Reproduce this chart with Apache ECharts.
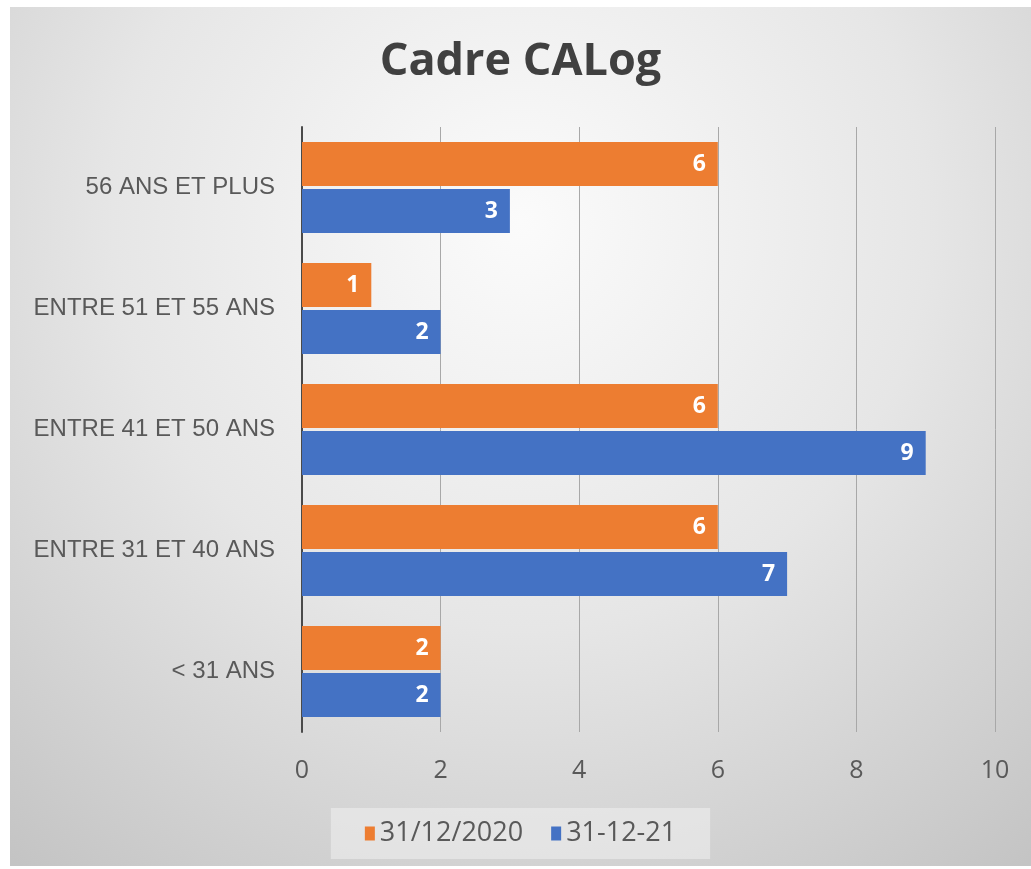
<!DOCTYPE html>
<html>
<head>
<meta charset="utf-8">
<script src="https://cdn.jsdelivr.net/npm/echarts@6/dist/echarts.min.js"></script>
<style>
html,body{margin:0;padding:0;background:#ffffff;}
#chart{position:absolute;left:10px;top:7px;width:1021px;height:859px;}
</style>
</head>
<body>
<div id="chart"></div>
<script>
const categories = ['< 31 ANS', 'ENTRE 31 ET 40 ANS', 'ENTRE 41 ET 50 ANS', 'ENTRE 51 ET 55 ANS', '56 ANS ET PLUS'];
const series2020 = [2, 6, 6, 1, 6];
const series2021 = [2, 7, 9, 2, 3];
const seriesNames = ['31/12/2020', '31-12-21'];
const xTicks = { min: 0, max: 10, interval: 2 };

const chart = echarts.init(document.getElementById('chart'));
const valueLabel = {
  show: true,
  position: 'insideRight',
  distance: 12,
  color: '#ffffff',
  fontFamily: 'Open Sans',
  fontWeight: 'bold',
  fontSize: 23
};
chart.setOption({
  backgroundColor: {
    type: 'radial', x: 0.5, y: 0.25, r: 0.95,
    colorStops: [
      { offset: 0, color: '#fbfbfb' },
      { offset: 0.5, color: '#e6e6e6' },
      { offset: 1, color: '#c4c4c4' }
    ]
  },
  title: {
    text: 'Cadre CALog',
    left: 'center',
    top: 28,
    textStyle: { fontFamily: 'Open Sans', fontWeight: 'bold', fontSize: 45, color: '#404040' }
  },
  legend: {
    data: seriesNames,
    left: 'center',
    top: 801,
    itemWidth: 10,
    itemHeight: 14,
    itemGap: 28,
    padding: [12, 34],
    backgroundColor: 'rgba(240,240,240,0.55)',
    icon: 'rect',
    textStyle: { fontFamily: 'Open Sans', fontSize: 27, color: '#595959' }
  },
  grid: { left: 292, right: 36, top: 120, bottom: 134 },
  xAxis: {
    type: 'value',
    min: xTicks.min, max: xTicks.max, interval: xTicks.interval,
    axisLine: { show: false },
    axisTick: { show: false },
    splitLine: { show: true, lineStyle: { color: '#a8a8a8', width: 1 } },
    axisLabel: { fontFamily: 'Open Sans', fontSize: 25, color: '#595959', margin: 26 }
  },
  yAxis: {
    type: 'category',
    data: categories,
    axisLine: { show: true, lineStyle: { color: '#4a4a4a', width: 2 } },
    axisTick: { show: false },
    axisLabel: { fontFamily: 'Liberation Sans', fontSize: 24, color: '#595959', margin: 27 }
  },
  series: [
    {
      name: seriesNames[0], type: 'bar', data: series2020,
      barWidth: 44, barGap: '7%',
      itemStyle: { color: '#ED7D31' },
      label: valueLabel
    },
    {
      name: seriesNames[1], type: 'bar', data: series2021,
      barWidth: 44, barGap: '7%',
      itemStyle: { color: '#4472C4' },
      label: valueLabel
    }
  ]
});
</script>
</body>
</html>
